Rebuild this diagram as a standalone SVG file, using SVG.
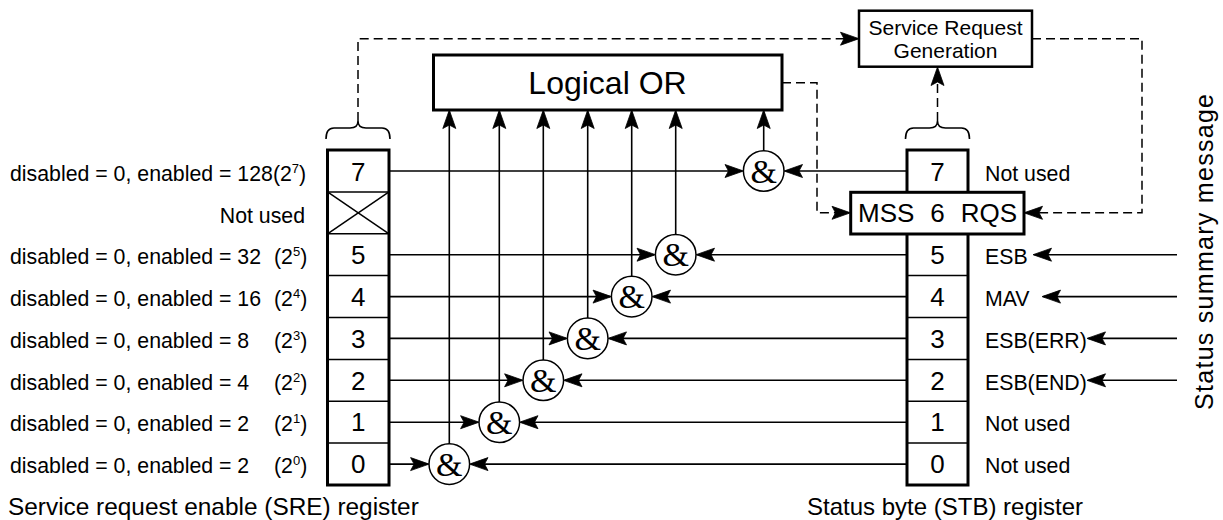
<svg xmlns="http://www.w3.org/2000/svg" width="1223" height="520" viewBox="0 0 1223 520">
<style>
.t{font-family:"Liberation Sans",Arial,sans-serif;fill:#000}
.lab{font-size:21.3px}
.dig{font-size:26px;text-anchor:middle}
.sup{font-size:13px}
.amp{font-family:"Liberation Serif","Times New Roman",serif;font-size:34px;text-anchor:middle;fill:#000}
.ln{fill:none;stroke:#000;stroke-width:1.6}
.dash{fill:none;stroke:#000;stroke-width:1.5;stroke-dasharray:9 5}
.thick{fill:#fff;stroke:#000;stroke-width:3}
.thin{stroke:#000;stroke-width:1.5}
.gate{fill:#fff;stroke:#000;stroke-width:1.5}
</style>
<defs>
<marker id="ah" viewBox="-22 -9 25 18" refX="0" refY="0" markerWidth="25" markerHeight="18" orient="auto" markerUnits="userSpaceOnUse">
<path d="M1.5,0 L-17,-6.5 L-13.5,0 L-17,6.5 Z" fill="#000" stroke="#000" stroke-width="0.8" stroke-linejoin="miter"/>
</marker>
</defs>

<g id="connectors">
<path class="dash" d="M358,121 V38.7 H857.5" marker-end="url(#ah)"/>
<path class="dash" d="M782,82.7 H817 V212.8 H849" marker-end="url(#ah)"/>
<path class="dash" d="M1032,38.7 H1142 V212.8 H1025.5" marker-end="url(#ah)"/>
<path class="dash" d="M937.5,121 V68.5" marker-end="url(#ah)"/>
<path class="ln" d="M326,139 Q326,128 334,128 H350 Q358,128 358,121 Q358,128 366,128 H382 Q390,128 390,139"/>
<path class="ln" d="M905.5,139 Q905.5,128 913.5,128 H929.5 Q937.5,128 937.5,121 Q937.5,128 945.5,128 H961.5 Q969.5,128 969.5,139"/>
<path class="ln" d="M389,171 H742" marker-end="url(#ah)"/>
<path class="ln" d="M907,171 H785.5" marker-end="url(#ah)"/>
<path class="ln" d="M763.7,151 V111.5" marker-end="url(#ah)"/>
<path class="ln" d="M389,254.7 H654" marker-end="url(#ah)"/>
<path class="ln" d="M907,254.7 H697.5" marker-end="url(#ah)"/>
<path class="ln" d="M675.7,234.7 V111.5" marker-end="url(#ah)"/>
<path class="ln" d="M389,296.6 H610" marker-end="url(#ah)"/>
<path class="ln" d="M907,296.6 H653.5" marker-end="url(#ah)"/>
<path class="ln" d="M631.7,276.6 V111.5" marker-end="url(#ah)"/>
<path class="ln" d="M389,338.4 H566" marker-end="url(#ah)"/>
<path class="ln" d="M907,338.4 H609.5" marker-end="url(#ah)"/>
<path class="ln" d="M587.7,318.4 V111.5" marker-end="url(#ah)"/>
<path class="ln" d="M389,380.3 H521.6" marker-end="url(#ah)"/>
<path class="ln" d="M907,380.3 H565" marker-end="url(#ah)"/>
<path class="ln" d="M543.3,360.3 V111.5" marker-end="url(#ah)"/>
<path class="ln" d="M389,422.2 H477.6" marker-end="url(#ah)"/>
<path class="ln" d="M907,422.2 H521" marker-end="url(#ah)"/>
<path class="ln" d="M499.3,402.2 V111.5" marker-end="url(#ah)"/>
<path class="ln" d="M389,464.1 H427.6" marker-end="url(#ah)"/>
<path class="ln" d="M907,464.1 H471" marker-end="url(#ah)"/>
<path class="ln" d="M449.3,444.1 V111.5" marker-end="url(#ah)"/>
<path class="ln" d="M1177,254.7 H1034.5" marker-end="url(#ah)"/>
<path class="ln" d="M1177,296.6 H1043.5" marker-end="url(#ah)"/>
<path class="ln" d="M1177,338.4 H1088.5" marker-end="url(#ah)"/>
<path class="ln" d="M1177,380.3 H1088.5" marker-end="url(#ah)"/>
</g>

<g id="logical-or">
<rect class="thick" x="433.5" y="55" width="348.5" height="55"/>
<text class="t" x="607.5" y="94.3" font-size="32" text-anchor="middle">Logical OR</text>
</g>

<g id="srq-generation">
<rect x="859" y="10.7" width="173" height="56" fill="#fff" stroke="#000" stroke-width="2.5"/>
<text class="t" x="945.5" y="35" font-size="21" text-anchor="middle">Service Request</text>
<text class="t" x="945.5" y="58.3" font-size="21" text-anchor="middle">Generation</text>
</g>

<g id="sre-register">
<rect class="thick" x="327.5" y="150" width="61.5" height="335"/>
<line class="thin" x1="327.5" y1="191.9" x2="389" y2="191.9"/>
<line class="thin" x1="327.5" y1="233.8" x2="389" y2="233.8"/>
<line class="thin" x1="327.5" y1="275.6" x2="389" y2="275.6"/>
<line class="thin" x1="327.5" y1="317.5" x2="389" y2="317.5"/>
<line class="thin" x1="327.5" y1="359.4" x2="389" y2="359.4"/>
<line class="thin" x1="327.5" y1="401.3" x2="389" y2="401.3"/>
<line class="thin" x1="327.5" y1="443.1" x2="389" y2="443.1"/>
<line class="thin" x1="327.5" y1="191.9" x2="389" y2="233.8"/>
<line class="thin" x1="389" y1="191.9" x2="327.5" y2="233.8"/>
<text class="t dig" x="358.2" y="181">7</text>
<text class="t dig" x="358.2" y="264">5</text>
<text class="t dig" x="358.2" y="305.8">4</text>
<text class="t dig" x="358.2" y="347.6">3</text>
<text class="t dig" x="358.2" y="389.5">2</text>
<text class="t dig" x="358.2" y="431.4">1</text>
<text class="t dig" x="358.2" y="473.3">0</text>
</g>

<g id="sre-labels">
<text class="t lab" x="10" y="181">disabled = 0, enabled = 128(2<tspan class="sup" dy="-8">7</tspan><tspan dy="8">)</tspan></text>
<text class="t lab" x="305" y="222.5" text-anchor="end">Not used</text>
<text class="t lab" x="10" y="264">disabled = 0, enabled = 32</text>
<text class="t lab" x="274" y="264">(2<tspan class="sup" dy="-8">5</tspan><tspan dy="8">)</tspan></text>
<text class="t lab" x="10" y="305.8">disabled = 0, enabled = 16</text>
<text class="t lab" x="274" y="305.8">(2<tspan class="sup" dy="-8">4</tspan><tspan dy="8">)</tspan></text>
<text class="t lab" x="10" y="347.6">disabled = 0, enabled = 8</text>
<text class="t lab" x="274" y="347.6">(2<tspan class="sup" dy="-8">3</tspan><tspan dy="8">)</tspan></text>
<text class="t lab" x="10" y="389.5">disabled = 0, enabled = 4</text>
<text class="t lab" x="274" y="389.5">(2<tspan class="sup" dy="-8">2</tspan><tspan dy="8">)</tspan></text>
<text class="t lab" x="10" y="431.4">disabled = 0, enabled = 2</text>
<text class="t lab" x="274" y="431.4">(2<tspan class="sup" dy="-8">1</tspan><tspan dy="8">)</tspan></text>
<text class="t lab" x="10" y="473.3">disabled = 0, enabled = 2</text>
<text class="t lab" x="274" y="473.3">(2<tspan class="sup" dy="-8">0</tspan><tspan dy="8">)</tspan></text>
<text class="t" x="8" y="515" font-size="24.4">Service request enable (SRE) register</text>
</g>

<g id="stb-register">
<rect class="thick" x="907" y="150" width="61" height="335"/>
<line class="thin" x1="907" y1="275.6" x2="968" y2="275.6"/>
<line class="thin" x1="907" y1="317.5" x2="968" y2="317.5"/>
<line class="thin" x1="907" y1="359.4" x2="968" y2="359.4"/>
<line class="thin" x1="907" y1="401.3" x2="968" y2="401.3"/>
<line class="thin" x1="907" y1="443.1" x2="968" y2="443.1"/>
<text class="t dig" x="937.5" y="181">7</text>
<text class="t dig" x="937.5" y="264">5</text>
<text class="t dig" x="937.5" y="305.8">4</text>
<text class="t dig" x="937.5" y="347.6">3</text>
<text class="t dig" x="937.5" y="389.5">2</text>
<text class="t dig" x="937.5" y="431.4">1</text>
<text class="t dig" x="937.5" y="473.3">0</text>
</g>

<g id="mss-rqs">
<rect class="thick" x="850.7" y="192.3" width="173.3" height="41.7"/>
<text class="t" x="858" y="221.7" font-size="26">MSS</text>
<text class="t" x="937.5" y="221.7" font-size="26" text-anchor="middle">6</text>
<text class="t" x="1017" y="221.7" font-size="26" text-anchor="end">RQS</text>
</g>

<g id="stb-labels">
<text class="t lab" x="985" y="181">Not used</text>
<text class="t lab" x="985" y="264">ESB</text>
<text class="t lab" x="985" y="305.8">MAV</text>
<text class="t lab" x="985" y="347.6">ESB(ERR)</text>
<text class="t lab" x="985" y="389.5">ESB(END)</text>
<text class="t lab" x="985" y="431.4">Not used</text>
<text class="t lab" x="985" y="473.3">Not used</text>
<text class="t" x="807" y="515" font-size="24">Status byte (STB) register</text>
<text class="t" x="0" y="0" font-size="25" text-anchor="middle" textLength="316" lengthAdjust="spacing" transform="translate(1213,252) rotate(-90)">Status summary message</text>
</g>

<g id="and-gates">
<g id="and7"><circle class="gate" cx="763.7" cy="171" r="20.3"/><text class="amp" x="763.7" y="182.5">&amp;</text></g>
<g id="and5"><circle class="gate" cx="675.7" cy="254.7" r="20.3"/><text class="amp" x="675.7" y="266.2">&amp;</text></g>
<g id="and4"><circle class="gate" cx="631.7" cy="296.6" r="20.3"/><text class="amp" x="631.7" y="308.1">&amp;</text></g>
<g id="and3"><circle class="gate" cx="587.7" cy="338.4" r="20.3"/><text class="amp" x="587.7" y="349.9">&amp;</text></g>
<g id="and2"><circle class="gate" cx="543.3" cy="380.3" r="20.3"/><text class="amp" x="543.3" y="391.8">&amp;</text></g>
<g id="and1"><circle class="gate" cx="499.3" cy="422.2" r="20.3"/><text class="amp" x="499.3" y="433.7">&amp;</text></g>
<g id="and0"><circle class="gate" cx="449.3" cy="464.1" r="20.3"/><text class="amp" x="449.3" y="475.6">&amp;</text></g>
</g>
</svg>
